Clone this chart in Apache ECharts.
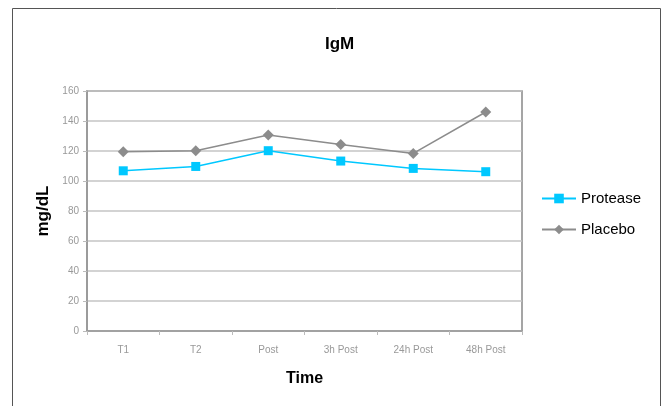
<!DOCTYPE html>
<html><head><meta charset="utf-8">
<script src="https://cdn.jsdelivr.net/npm/echarts@6/dist/echarts.min.js"></script>
<style>html,body{margin:0;padding:0;background:#fff}#c{width:662px;height:406px}</style>
</head><body><div id="c"></div>
<script>
const categories = ['T1','T2','Post','3h Post','24h Post','48h Post'];
const protease = [106.8, 109.7, 120.2, 113.3, 108.4, 106.2];
const placebo = [119.5, 120.2, 130.6, 124.3, 118.4, 146.0];
const yTicks = [0,20,40,60,80,100,120,140,160];
const FONT = '"Liberation Sans Narrow", "Liberation Sans", Arial, sans-serif';
const chart = echarts.init(document.getElementById('c'));
chart.setOption({
  animation:false,
  backgroundColor:'#fff',
  title:{text:'IgM',left:320,top:31,textStyle:{fontFamily:FONT,fontSize:17,fontWeight:'bold',color:'#000'}},
  graphic:[{type:'rect',shape:{x:12.5,y:8.5,width:648,height:420},style:{fill:'none',stroke:'#555',lineWidth:1},silent:true}],
  grid:{left:87,top:91,width:435,height:240,show:true,borderColor:'#888',borderWidth:1.5,backgroundColor:'transparent'},
  legend:{orient:'vertical',left:536,top:186,itemGap:16,itemWidth:34,itemHeight:12,
    textStyle:{fontFamily:FONT,fontSize:15,color:'#000'},
    data:['Protease','Placebo']},
  xAxis:{type:'category',data:categories,boundaryGap:true,
    name:'Time',nameLocation:'middle',nameGap:40,nameTextStyle:{fontFamily:FONT,fontSize:16,fontWeight:'bold',color:'#000'},
    axisLine:{lineStyle:{color:'#999',width:1.5}},axisTick:{show:true,length:4,lineStyle:{color:'#bbb'}},
    axisLabel:{fontFamily:FONT,fontSize:10,color:'#999',margin:14}},
  yAxis:{type:'value',min:yTicks[0],max:yTicks[yTicks.length-1],interval:20,
    name:'mg/dL',nameLocation:'middle',nameGap:33,nameTextStyle:{fontFamily:FONT,fontSize:17,fontWeight:'bold',color:'#000'},
    axisLine:{show:true,lineStyle:{color:'#999',width:1.5}},axisTick:{show:true,length:4,lineStyle:{color:'#bbb'}},
    axisLabel:{fontFamily:FONT,fontSize:10,color:'#999',margin:8},
    splitLine:{lineStyle:{color:'#c4c4c4',width:1.5}}},
  series:[
    {name:'Protease',type:'line',data:protease,symbol:'rect',symbolSize:9,
      lineStyle:{color:'#00c8ff',width:1.5},itemStyle:{color:'#00c8ff'}},
    {name:'Placebo',type:'line',data:placebo,symbol:'diamond',symbolSize:11,
      lineStyle:{color:'#8c8c8c',width:1.5},itemStyle:{color:'#8c8c8c'}}
  ]
});
</script></body></html>
